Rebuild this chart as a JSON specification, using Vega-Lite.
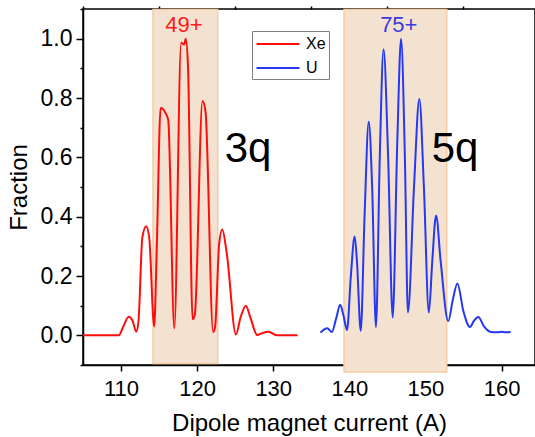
{
  "$schema": "https://vega.github.io/schema/vega-lite/v6.json",
  "width": 452,
  "height": 356,
  "autosize": {"type": "none"},
  "padding": {"left": 83, "top": 9, "right": 0, "bottom": 72},
  "config": {
    "view": {"stroke": "#000", "strokeWidth": 1.5},
    "font": "Liberation Sans",
    "axis": {"grid": false, "domainColor": "#000", "domainWidth": 1.5, "tickColor": "#000", "tickWidth": 1.5, "labelColor": "#000", "titleColor": "#000", "labelFont": "Liberation Sans", "titleFont": "Liberation Sans", "titleFontWeight": "normal"}
  },
  "datasets": {
    "boxes": [
      {"x": 114.2, "x2": 122.7, "y": -0.095, "y2": 1.098},
      {"x": 139.3, "x2": 152.8, "y": -0.124, "y2": 1.098}
    ],
    "xe": [
      {"s": "Xe", "x": 105, "y": 0}, {"s": "Xe", "x": 109.7, "y": 0}, {"s": "Xe", "x": 110.3, "y": 0.03},
      {"s": "Xe", "x": 111.0, "y": 0.063}, {"s": "Xe", "x": 111.5, "y": 0.05}, {"s": "Xe", "x": 112.0, "y": 0.012},
      {"s": "Xe", "x": 112.3, "y": 0.05}, {"s": "Xe", "x": 112.8, "y": 0.33}, {"s": "Xe", "x": 113.3, "y": 0.368},
      {"s": "Xe", "x": 113.7, "y": 0.33}, {"s": "Xe", "x": 114.35, "y": 0.03}, {"s": "Xe", "x": 114.7, "y": 0.3},
      {"s": "Xe", "x": 115.2, "y": 0.766}, {"s": "Xe", "x": 115.85, "y": 0.749}, {"s": "Xe", "x": 116.2, "y": 0.726},
      {"s": "Xe", "x": 117.0, "y": 0.024}, {"s": "Xe", "x": 117.9, "y": 0.986}, {"s": "Xe", "x": 118.3, "y": 0.98},
      {"s": "Xe", "x": 118.5, "y": 1.0}, {"s": "Xe", "x": 118.8, "y": 0.907}, {"s": "Xe", "x": 119.4, "y": 0.054},
      {"s": "Xe", "x": 119.7, "y": 0.07}, {"s": "Xe", "x": 120.7, "y": 0.79}, {"s": "Xe", "x": 121.1, "y": 0.755},
      {"s": "Xe", "x": 122.1, "y": 0.011}, {"s": "Xe", "x": 122.35, "y": 0.026}, {"s": "Xe", "x": 122.9, "y": 0.31},
      {"s": "Xe", "x": 123.3, "y": 0.357}, {"s": "Xe", "x": 123.9, "y": 0.275}, {"s": "Xe", "x": 125.1, "y": 0.003},
      {"s": "Xe", "x": 125.7, "y": 0.06}, {"s": "Xe", "x": 126.4, "y": 0.1}, {"s": "Xe", "x": 127.0, "y": 0.06},
      {"s": "Xe", "x": 127.9, "y": 0.001}, {"s": "Xe", "x": 128.6, "y": 0.008}, {"s": "Xe", "x": 129.4, "y": 0.012},
      {"s": "Xe", "x": 130.5, "y": 0}, {"s": "Xe", "x": 133.2, "y": 0}
    ],
    "u": [
      {"s": "U", "x": 136.2, "y": 0.009}, {"s": "U", "x": 136.7, "y": 0.02}, {"s": "U", "x": 137.1, "y": 0.024},
      {"s": "U", "x": 137.7, "y": 0.011}, {"s": "U", "x": 138.3, "y": 0.06}, {"s": "U", "x": 138.8, "y": 0.103},
      {"s": "U", "x": 139.2, "y": 0.07}, {"s": "U", "x": 139.7, "y": 0.018}, {"s": "U", "x": 140.2, "y": 0.2},
      {"s": "U", "x": 140.7, "y": 0.333}, {"s": "U", "x": 141.0, "y": 0.25}, {"s": "U", "x": 141.5, "y": 0.015},
      {"s": "U", "x": 142.0, "y": 0.4}, {"s": "U", "x": 142.55, "y": 0.72}, {"s": "U", "x": 143.0, "y": 0.5},
      {"s": "U", "x": 143.5, "y": 0.028}, {"s": "U", "x": 144.0, "y": 0.6}, {"s": "U", "x": 144.5, "y": 0.964},
      {"s": "U", "x": 145.1, "y": 0.6}, {"s": "U", "x": 145.7, "y": 0.06}, {"s": "U", "x": 146.3, "y": 0.65},
      {"s": "U", "x": 146.8, "y": 1.0}, {"s": "U", "x": 147.3, "y": 0.6}, {"s": "U", "x": 147.7, "y": 0.077},
      {"s": "U", "x": 148.5, "y": 0.5}, {"s": "U", "x": 149.2, "y": 0.797}, {"s": "U", "x": 149.8, "y": 0.5},
      {"s": "U", "x": 150.45, "y": 0.077}, {"s": "U", "x": 150.9, "y": 0.25}, {"s": "U", "x": 151.4, "y": 0.404},
      {"s": "U", "x": 152.0, "y": 0.25}, {"s": "U", "x": 153.0, "y": 0.048}, {"s": "U", "x": 153.6, "y": 0.12},
      {"s": "U", "x": 154.2, "y": 0.175}, {"s": "U", "x": 155.0, "y": 0.08}, {"s": "U", "x": 155.85, "y": 0.028},
      {"s": "U", "x": 156.4, "y": 0.05}, {"s": "U", "x": 156.95, "y": 0.062}, {"s": "U", "x": 157.7, "y": 0.03},
      {"s": "U", "x": 158.6, "y": 0.011}, {"s": "U", "x": 159.5, "y": 0.01}, {"s": "U", "x": 160.0, "y": 0.012},
      {"s": "U", "x": 160.5, "y": 0.01}, {"s": "U", "x": 161.2, "y": 0.011}
    ]
  },
  "layer": [
    {
      "data": {"name": "boxes"},
      "mark": {"type": "rect", "clip": false, "fill": "#f4e2d1", "stroke": "#f5cba2", "strokeWidth": 1.5},
      "encoding": {
        "x": {"field": "x", "type": "quantitative", "scale": {"domain": [105, 164.4], "nice": false, "zero": false},
          "axis": {"values": [110, 120, 130, 140, 150, 160], "format": "d", "tickSize": 6,
            "labelFontSize": 22, "labelPadding": 7, "labelFlush": false, "labelOverlap": false,
            "title": "Dipole magnet current (A)", "titleFontSize": 24, "titlePadding": 12}},
        "x2": {"field": "x2"},
        "y": {"field": "y", "type": "quantitative", "scale": {"domain": [-0.1, 1.1], "nice": false, "zero": false},
          "axis": {"values": [0, 0.2, 0.4, 0.6, 0.8, 1.0], "format": ".1f", "tickSize": 7,
            "labelFontSize": 23, "labelPadding": 4, "labelFlush": false, "labelOverlap": false,
            "title": "Fraction", "titleFontSize": 24, "titlePadding": 9}},
        "y2": {"field": "y2"}
      }
    },
    {
      "data": {"name": "xe"},
      "mark": {"type": "line", "strokeWidth": 2, "interpolate": "monotone"},
      "encoding": {
        "x": {"field": "x", "type": "quantitative", "axis": {"values": [105, 115, 125, 135, 145, 155], "labels": false, "domain": false, "tickSize": 3, "title": null}},
        "y": {"field": "y", "type": "quantitative", "axis": {"orient": "left", "values": [-0.1, 0.1, 0.3, 0.5, 0.7, 0.9, 1.1], "labels": false, "domain": false, "tickSize": 3, "title": null}},
        "color": {"field": "s", "type": "nominal", "scale": {"domain": ["Xe", "U"], "range": ["#ff0d0d", "#2638f2"]},
          "legend": {"orient": "none", "legendX": 169, "legendY": 22, "title": null, "symbolType": "M-2.5,0H2.5", "symbolSize": 296,
            "symbolStrokeWidth": 2, "symbolOffset": 13, "labelFontSize": 16, "labelFont": "Liberation Sans", "labelColor": "#000",
            "strokeColor": "#808080", "fillColor": "#ffffff", "padding": 3, "rowPadding": 6, "labelOffset": 18}}
      }
    },
    {
      "data": {"name": "u"},
      "mark": {"type": "line", "strokeWidth": 2, "interpolate": "monotone"},
      "encoding": {
        "x": {"field": "x", "type": "quantitative", "axis": null},
        "y": {"field": "y", "type": "quantitative", "axis": null},
        "color": {"field": "s", "type": "nominal"}
      }
    },
    {
      "data": {"values": [{"x": 118.25, "y": 1.045, "t": "49+"}]},
      "mark": {"type": "text", "fontSize": 22, "color": "#ff1a1a", "baseline": "middle", "align": "center"},
      "encoding": {"x": {"field": "x", "type": "quantitative", "axis": null}, "y": {"field": "y", "type": "quantitative", "axis": null}, "text": {"field": "t"}}
    },
    {
      "data": {"values": [{"x": 146.5, "y": 1.045, "t": "75+"}]},
      "mark": {"type": "text", "fontSize": 22, "color": "#3a3ade", "baseline": "middle", "align": "center"},
      "encoding": {"x": {"field": "x", "type": "quantitative", "axis": null}, "y": {"field": "y", "type": "quantitative", "axis": null}, "text": {"field": "t"}}
    },
    {
      "data": {"values": [{"x": 126.7, "y": 0.584, "t": "3q"}, {"x": 153.9, "y": 0.584, "t": "5q"}]},
      "mark": {"type": "text", "fontSize": 42, "color": "#000", "baseline": "alphabetic", "align": "center"},
      "encoding": {"x": {"field": "x", "type": "quantitative", "axis": null}, "y": {"field": "y", "type": "quantitative", "axis": null}, "text": {"field": "t"}}
    }
  ],
  "resolve": {"axis": {"x": "independent", "y": "independent"}}
}
